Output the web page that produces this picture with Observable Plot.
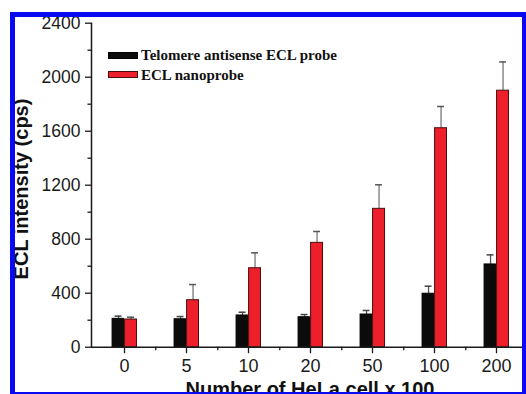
<!DOCTYPE html>
<html>
<head>
<meta charset="utf-8">
<script src="https://cdn.jsdelivr.net/npm/d3@7"></script>
<script src="https://cdn.jsdelivr.net/npm/@observablehq/plot@0.6"></script>
<style>
  html, body { margin: 0; padding: 0; background: #fff; overflow: hidden; width: 526px; height: 394px; }
  #frame { position: absolute; left: 10px; top: 12px; width: 517px; height: 385px; box-sizing: border-box;
           border: 5px solid #0a0af2; overflow: hidden; background: #fff; }
  #chart { position: absolute; left: -15px; top: -17px; width: 526px; height: 394px; }
  #chart svg { max-width: none !important; overflow: visible; }
  .lg { position: absolute; font-family: "Liberation Serif", "Times New Roman", serif; font-weight: bold; font-size: 15px; line-height: 15px; color: #111; white-space: nowrap; }
  .sw { position: absolute; width: 30px; height: 7px; box-sizing: border-box; }
  .ttl { position: absolute; font-family: "Liberation Sans", Arial, sans-serif; font-weight: bold; font-size: 20px; line-height: 20px; color: #111; white-space: nowrap; }
</style>
</head>
<body>
<div id="frame"><div id="chart"></div></div>
<script>
// ---- data ----
const cells = ["0", "5", "10", "20", "50", "100", "200"];
const probeValues = [210, 207, 235, 222, 242, 396, 613];
const probeErrors = [20, 20, 24, 20, 30, 56, 71];
const nanoValues = [205, 348, 585, 773, 1025, 1622, 1900];
const nanoErrors = [17, 116, 114, 84, 178, 161, 213];
const seriesNames = ["Telomere antisense ECL probe", "ECL nanoprobe"];
const yMajorTicks = [0, 400, 800, 1200, 1600, 2000, 2400];
const yMinorTicks = [200, 600, 1000, 1400, 1800, 2200];

const probe = cells.map((c, i) => ({cell: c, value: probeValues[i], err: probeErrors[i]}));
const nano = cells.map((c, i) => ({cell: c, value: nanoValues[i], err: nanoErrors[i]}));

const x0 = 91, x1 = 529;
const step = (x1 - x0) / cells.length;
const half = step / 2;
const barW = 12.5;
const capW = 7.5;
const capInset = (step - capW) / 2;

const font = {fontFamily: "'Liberation Sans', Arial, sans-serif", fontSize: 17.5};

const plot = Plot.plot({
  width: 526,
  height: 394,
  marginLeft: 91,
  marginRight: 0,
  marginTop: 22.7,
  marginBottom: 47.3,
  style: {background: "transparent", color: "#1a1a1a", overflow: "visible", maxWidth: "none"},
  x: {type: "band", domain: cells, range: [x0, x1], padding: 0, axis: null},
  y: {domain: [0, 2400], range: [346.7, 22.7], axis: null},
  marks: [
    // error bars (upper half only)
    Plot.ruleX(probe, {x: "cell", y1: "value", y2: d => d.value + d.err, dx: -barW / 2 + 0.3, stroke: "#555", strokeWidth: 1.3}),
    Plot.tickY(probe, {x: "cell", y: d => d.value + d.err, dx: -barW / 2 + 0.3, insetLeft: capInset, insetRight: capInset, stroke: "#444", strokeWidth: 1.5}),
    Plot.ruleX(nano, {x: "cell", y1: "value", y2: d => d.value + d.err, dx: barW / 2 + 0.3, stroke: "#777", strokeWidth: 1.3}),
    Plot.tickY(nano, {x: "cell", y: d => d.value + d.err, dx: barW / 2 + 0.3, insetLeft: capInset, insetRight: capInset, stroke: "#555", strokeWidth: 1.5}),
    // bars
    Plot.barY(probe, {x: "cell", y: "value", insetLeft: half - barW + 0.3, insetRight: half + 0.3, fill: "#0b0b0b", stroke: "#000", strokeWidth: 1}),
    Plot.barY(nano, {x: "cell", y: "value", insetLeft: half + 0.3, insetRight: half - barW - 0.3, fill: "#ec1f2a", stroke: "#4a0d0d", strokeWidth: 1}),
    // axes
    Plot.ruleY([0], {stroke: "#1a1a1a", strokeWidth: 1.5}),
    Plot.frame({anchor: "left", stroke: "#1a1a1a", strokeWidth: 1.5}),
    Plot.axisY({ticks: yMajorTicks, tickSize: 6, tickPadding: 5, tickFormat: d => String(d), stroke: "#1a1a1a", strokeWidth: 1.3, label: null, ...font}),
    Plot.axisY({ticks: yMinorTicks, tickSize: 3.5, tickFormat: () => "", stroke: "#1a1a1a", strokeWidth: 1.3, label: null}),
    Plot.axisX({tickSize: 6.5, tickPadding: 6, stroke: "#1a1a1a", strokeWidth: 1.3, label: null, ...font, fontSize: 18}),
    Plot.axisX({tickSize: 3.5, tickFormat: () => "", dx: half, stroke: "#1a1a1a", strokeWidth: 1.3, label: null})
  ]
});
plot.style.maxWidth = "none";
document.getElementById("chart").appendChild(plot);

// legend and titles (page coordinates inside the chart container)
const chart = document.getElementById("chart");
const swColors = [["#0b0b0b", "#000"], ["#ec1f2a", "#4a0d0d"]];
seriesNames.forEach((name, i) => {
  const sw = document.createElement("div");
  sw.className = "sw";
  sw.style.left = "108px";
  sw.style.top = (52 + i * 18.7) + "px";
  sw.style.background = swColors[i][0];
  sw.style.border = "1px solid " + swColors[i][1];
  chart.appendChild(sw);
  const t = document.createElement("div");
  t.className = "lg";
  t.textContent = name;
  t.style.left = "141px";
  t.style.top = (48.3 + i * 19.5) + "px";
  chart.appendChild(t);
});
const yTitle = document.createElement("div");
yTitle.className = "ttl";
yTitle.textContent = "ECL intensity (cps)";
yTitle.style.left = "21px";
yTitle.style.top = "189px";
yTitle.style.transform = "translate(-50%, -50%) rotate(-90deg)";
chart.appendChild(yTitle);
const xTitle = document.createElement("div");
xTitle.className = "ttl";
xTitle.textContent = "Number of HeLa cell x 100";
xTitle.style.left = "310px";
xTitle.style.top = "378.5px";
xTitle.style.transform = "translateX(-50%)";
chart.appendChild(xTitle);
</script>
</body>
</html>
